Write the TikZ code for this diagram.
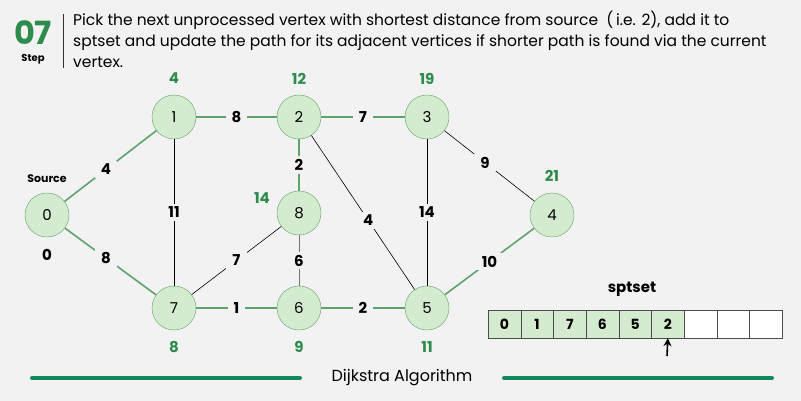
\documentclass[tikz,border=0pt]{standalone}
\usepackage{fontspec}
\usetikzlibrary{arrows.meta}
\setmainfont{Poppins}
\definecolor{bgc}{HTML}{F2F2F2}
\definecolor{gfill}{HTML}{D5EBCF}
\definecolor{gline}{HTML}{5FA36A}
\definecolor{gtext}{HTML}{2E8B4E}
\definecolor{gbar}{HTML}{148A5A}
\tikzset{
  vtx/.style={circle, draw=gline, fill=gfill, minimum size=44pt, inner sep=0pt, font=\fontsize{15}{15}\selectfont},
  tree/.style={draw=gline, line width=1.6pt},
  plain/.style={draw=black, line width=0.6pt},
  wt/.style={fill=bgc, inner xsep=6pt, inner ysep=3pt, font=\bfseries\fontsize{15}{15}\selectfont},
  dist/.style={text=gtext, font=\bfseries\fontsize{15}{15}\selectfont},
  cell/.style={draw=black!70, minimum width=32.7pt, minimum height=28pt, inner sep=0pt, font=\bfseries\fontsize{14}{14}\selectfont}
}
\begin{document}
\begin{tikzpicture}[x=1pt, y=-1pt, >=stealth]
  \fill[bgc] (0,0) rectangle (801,401);
  \useasboundingbox (0,0) rectangle (801,401);
  % header
  \node[text=gtext, font=\bfseries\fontsize{32}{32}\selectfont, inner sep=0pt] (stepno) at (33,33) {07};
  \node[font=\bfseries\fontsize{10}{10}\selectfont, inner sep=0pt] (steplbl) at (33,59) {Step};
  \draw[line width=1pt, black!80] (63,14) -- (63,68);
  \node[anchor=north west, align=left, inner sep=0pt,
        font=\fontsize{15.5}{21}\selectfont] (desc) at (73,11)
    {Pick the next unprocessed vertex with shortest distance from source \ (\,i.e. 2), add it to\\
     sptset and update the path for its adjacent vertices if shorter path is found via the current\\
     vertex.};
  % vertices
  \node[vtx] (v0) at (47,215) {0};
  \node[vtx] (v1) at (174,117) {1};
  \node[vtx] (v2) at (299,117) {2};
  \node[vtx] (v3) at (427,117) {3};
  \node[vtx] (v4) at (552,215) {4};
  \node[vtx] (v5) at (427,308) {5};
  \node[vtx] (v6) at (299,308) {6};
  \node[vtx] (v7) at (174,308) {7};
  \node[vtx] (v8) at (299,213) {8};
  % edges
  \draw[tree] (v0) -- node[wt, pos=0.45] {4} (v1);
  \draw[tree] (v0) -- node[wt, pos=0.45] {8} (v7);
  \draw[tree] (v1) -- node[wt] {8} (v2);
  \draw[tree] (v2) -- node[wt] {7} (v3);
  \draw[tree] (v2) -- node[wt] {2} (v8);
  \draw[tree] (v7) -- node[wt] {1} (v6);
  \draw[tree] (v6) -- node[wt] {2} (v5);
  \draw[tree] (v5) -- node[wt] {10} (v4);
  \draw[plain] (v1) -- node[wt] {11} (v7);
  \draw[plain] (v7) -- node[wt] {7} (v8);
  \draw[plain, draw=black!55, line width=1pt] (v8) -- node[wt] {6} (v6);
  \draw[plain] (v2) -- node[wt, pos=0.55] {4} (v5);
  \draw[plain] (v3) -- node[wt] {14} (v5);
  \draw[plain] (v3) -- node[wt, pos=0.45] {9} (v4);
  % distances
  \node[font=\bfseries\fontsize{11}{11}\selectfont] (src) at (47,179) {Source};
  \node[font=\bfseries\fontsize{15}{15}\selectfont] (d0) at (47,255) {0};
  \node[dist] (d1) at (174,78) {4};
  \node[dist] (d2) at (299,79) {12};
  \node[dist] (d3) at (427,79) {19};
  \node[dist] (d4) at (552,176) {21};
  \node[dist] (d8) at (262,198) {14};
  \node[dist] (d7) at (174,347) {8};
  \node[dist] (d6) at (299,347) {9};
  \node[dist] (d5) at (427,347) {11};
  % sptset
  \node[font=\bfseries\fontsize{15}{15}\selectfont] (spt) at (632,289) {sptset};
  \foreach \v [count=\i from 0] in {0,1,7,6,5,2} {
    \node[cell, fill=gfill] (c\i) at (504.35+32.7*\i,324) {\v};
  }
  \foreach \i in {6,7,8} {
    \node[cell, fill=white] (c\i) at (504.35+32.7*\i,324) {};
  }
  \coordinate (ptr) at (667,356);
  \draw[-{Stealth[length=8pt,width=8pt]}, line width=1.6pt] (ptr) -- (c5.south);
  % footer
  \draw[gbar, line width=4pt, line cap=round] (32,378) -- (300,378);
  \draw[gbar, line width=4pt, line cap=round] (504,378) -- (772,378);
  \node[font=\fontsize{16}{16}\selectfont] (title) at (402,378) {Dijkstra Algorithm};
\end{tikzpicture}
\end{document}
